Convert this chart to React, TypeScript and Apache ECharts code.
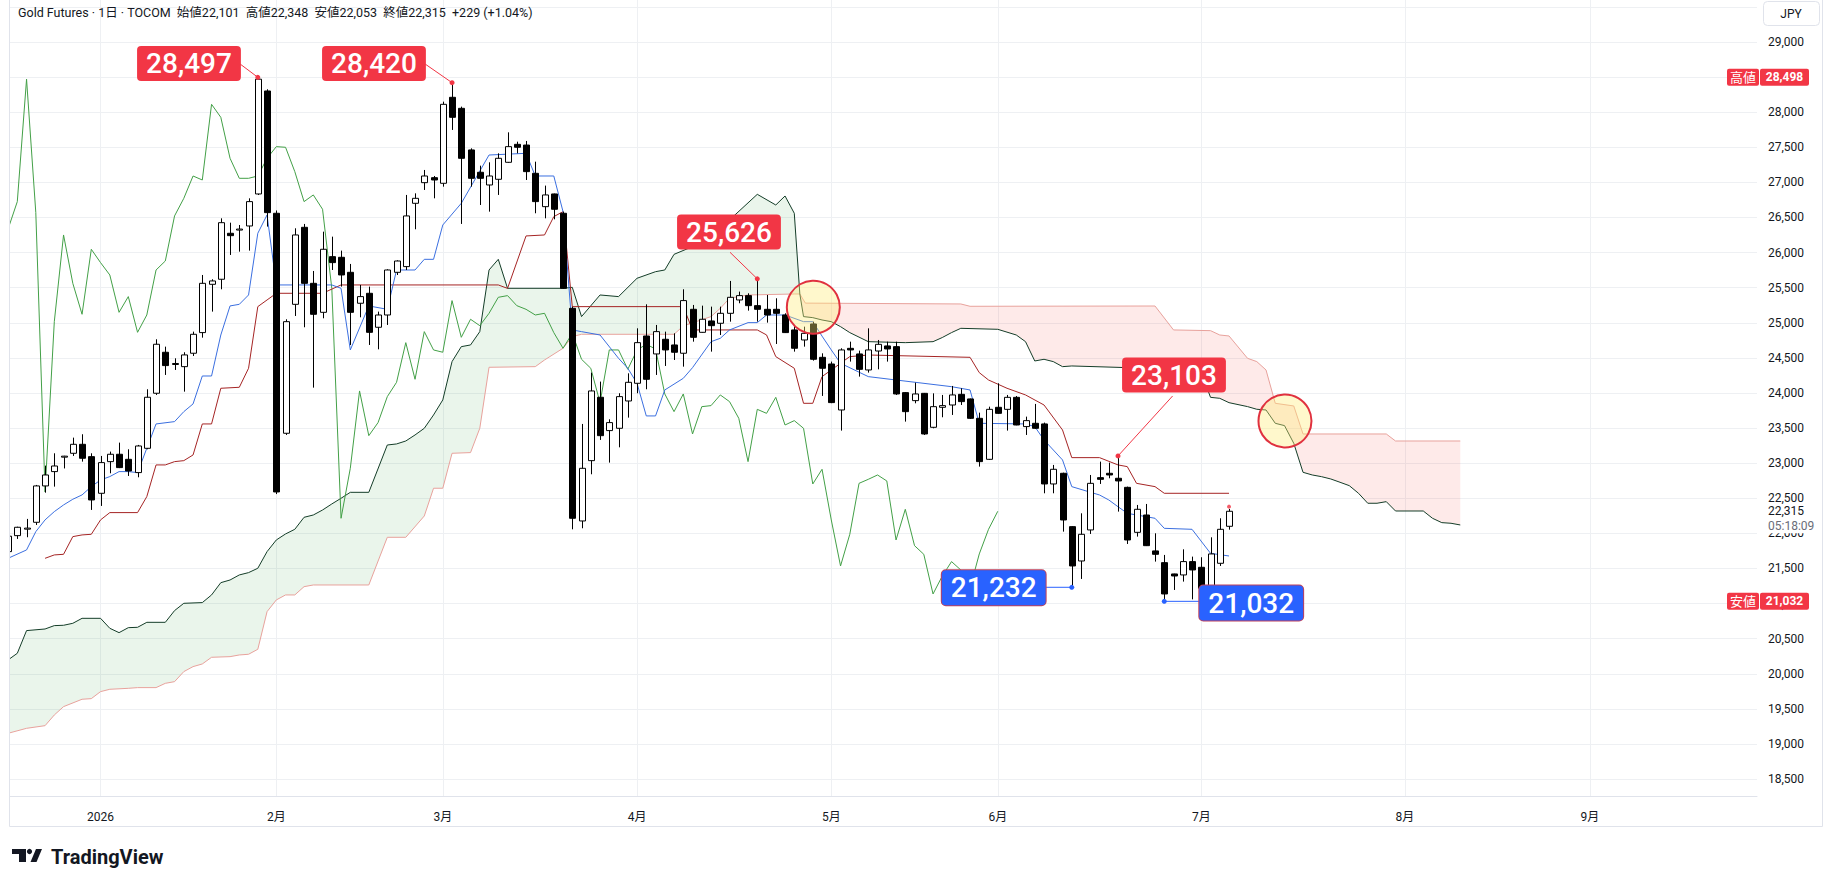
import React, { useEffect, useRef } from "react";
import * as echarts from "echarts";

// ---------- axis labels ----------
const monthTickIdx = [10, 29, 47, 68, 89, 107, 129, 151, 171];
const monthLabels = ["2026", "2月", "3月", "4月", "5月", "6月", "7月", "8月", "9月"];
const priceGrid = [18500, 19000, 19500, 20000, 20500, 21000, 21500, 22000, 22500, 23000, 23500, 24000, 24500, 25000, 25500, 26000, 26500, 27000, 27500, 28000, 28500, 29000, 29500];
const priceLabels = [18500, 19000, 19500, 20000, 20500, 21000, 21500, 22000, 22500, 23000, 23500, 24000, 24500, 25000, 25500, 26000, 26500, 27000, 27500, 28000, 28500, 29000];

// ---------- daily candles (index 0 = 2025-12-17) ----------
const opens = [21740, 21968, 22060, 22158, 22676, 22880, 23090, 23141, 23269, 23093, 22571, 23022, 23127, 23055, 22866, 23212, 23996, 24580, 24410, 24375, 24566, 24860, 25548, 25620, 26275, 26330, 26379, 26835, 28302, 26560, 23426, 25263, 26360, 25562, 25149, 25942, 25933, 25719, 25278, 25420, 24936, 25111, 25719, 25800, 26702, 26996, 27067, 26987, 28212, 28055, 27462, 27144, 26963, 27044, 27286, 27542, 27532, 27129, 26654, 26835, 26560, 25206, 22177, 23036, 23939, 23464, 23497, 23886, 24138, 24812, 24556, 24765, 24684, 24566, 25192, 24864, 25026, 24993, 25135, 25325, 25387, 25244, 25192, 25192, 25111, 24898, 24755, 24983, 24508, 24413, 23758, 24636, 24556, 24328, 24598, 24670, 24660, 24005, 23891, 23995, 23511, 23796, 23829, 23981, 23915, 23639, 23055, 23796, 23767, 23938, 23521, 23568, 23559, 22704, 22856, 22096, 21607, 22049, 22794, 22856, 22785, 22656, 22015, 22262, 21750, 21583, 21422, 21408, 21598, 21517, 21242, 21574, 22101];
const highs = [22010, 22095, 22206, 22690, 22965, 23141, 23105, 23364, 23412, 23141, 23103, 23165, 23293, 23198, 23260, 24053, 24765, 24660, 24494, 24580, 24874, 25681, 25620, 26488, 26426, 26393, 26773, 28497, 28326, 26600, 25050, 26346, 26408, 25738, 26298, 26227, 26028, 25838, 25539, 25515, 25159, 25762, 25890, 26821, 26844, 27177, 27091, 28150, 28420, 28079, 27485, 27238, 27286, 27414, 27713, 27580, 27590, 27295, 26954, 26840, 26583, 25230, 23559, 24290, 24162, 23625, 23996, 24280, 24921, 25263, 24969, 24874, 24850, 25477, 25254, 25244, 25230, 25230, 25596, 25444, 25420, 25626, 25396, 25349, 25135, 24969, 24945, 25016, 24565, 24447, 24637, 24731, 24603, 24921, 24755, 24731, 24731, 24010, 24147, 24000, 23995, 23972, 24100, 24067, 23920, 23720, 23805, 24138, 23972, 23957, 23663, 23844, 23578, 22975, 22865, 22100, 22286, 22832, 23022, 23008, 23103, 22666, 22405, 22419, 22001, 21693, 21425, 21773, 21669, 21660, 21944, 22215, 22348];
const lows = [21720, 21921, 21945, 22120, 22580, 22666, 22925, 23103, 23022, 22334, 22391, 22856, 22930, 22818, 22799, 23198, 23972, 24257, 24328, 24019, 24527, 24788, 25159, 25477, 25966, 26013, 26028, 26820, 26370, 22560, 23402, 25097, 24936, 24076, 25064, 25752, 25515, 24684, 25078, 24684, 24622, 24969, 25681, 25752, 26332, 26892, 26773, 26939, 27747, 26408, 26939, 26678, 26583, 26821, 27280, 27414, 27034, 26560, 26488, 26474, 25485, 22058, 22073, 22842, 23331, 23008, 23226, 23649, 23996, 24053, 24257, 24385, 24470, 24375, 24731, 24860, 24589, 24826, 25016, 25278, 25173, 25016, 25002, 24698, 24855, 24589, 24660, 24461, 23958, 23855, 23464, 24447, 24233, 24290, 24337, 24447, 23972, 23592, 23853, 23402, 23497, 23654, 23687, 23829, 23630, 22951, 23046, 23705, 23464, 23540, 23402, 23490, 22571, 22571, 22025, 21232, 21351, 21992, 22704, 22785, 22310, 21849, 21954, 21820, 21598, 21032, 21194, 21313, 21060, 21194, 21218, 21536, 22053];
const closes = [21960, 22087, 22075, 22676, 22832, 22960, 23100, 23269, 23070, 22476, 23008, 23127, 22937, 22889, 23245, 23939, 24694, 24390, 24420, 24542, 24836, 25562, 25596, 26426, 26241, 26335, 26726, 28470, 26569, 22590, 25016, 26251, 25562, 25121, 26047, 25857, 25681, 25149, 25373, 24864, 25111, 25752, 25880, 26522, 26773, 27091, 27034, 28112, 27927, 27343, 27058, 27058, 27091, 27343, 27509, 27500, 27153, 26726, 26821, 26617, 25491, 22215, 22927, 24029, 23392, 23578, 23948, 24152, 24717, 24195, 24874, 24613, 24580, 25316, 24793, 25050, 24959, 25135, 25363, 25387, 25244, 25192, 25111, 25135, 24860, 24637, 24850, 24480, 24352, 23863, 24613, 24613, 24337, 24613, 24693, 24627, 23986, 23734, 23986, 23416, 23805, 23820, 23972, 23877, 23639, 23022, 23767, 23710, 23938, 23544, 23606, 23497, 22704, 22913, 22191, 21536, 21987, 22713, 22770, 22832, 22747, 21906, 22343, 21825, 21702, 21137, 21393, 21598, 21479, 21218, 21707, 22058, 22315];

// ---------- Ichimoku lines, read as [bar index, price] vertices ----------
const tenkan = [[0, 21645], [2, 21764], [3, 22025], [4, 22192], [5, 22310], [6, 22405], [7, 22486], [8, 22548], [9, 22666], [10, 22761], [11, 22809], [12, 22880], [13, 22880], [14, 22866], [15, 23212], [16, 23559], [18, 23592], [19, 23734], [20, 23844], [21, 24242], [22, 24242], [23, 24826], [24, 25240], [25, 25263], [26, 25396], [27, 26275], [28, 26536], [29, 25539], [35, 25539], [36, 25491], [37, 24613], [39, 25240], [41, 25192], [42, 25752], [44, 25752], [45, 25904], [46, 25904], [47, 26393], [49, 26702], [52, 27390], [56, 27414], [57, 27091], [59, 27091], [60, 26583], [61, 24898], [62, 24874], [64, 24826], [66, 24494], [67, 24352], [68, 24138], [69, 23673], [70, 23673], [71, 24043], [73, 24209], [74, 24361], [76, 24731], [77, 24779], [78, 24898], [80, 25002], [81, 25002], [82, 25111], [84, 25111], [86, 25016], [87, 25016], [88, 24810], [89, 24613], [90, 24423], [93, 24233], [96, 24185], [102, 24090], [104, 24043], [105, 23568], [110, 23559], [111, 23521], [112, 23331], [114, 23046], [115, 22666], [118, 22547], [119, 22476], [120, 22380], [121, 22286], [124, 22215], [125, 22072], [128, 22058], [130, 21716], [132, 21678]];
const kijun = [[4, 21645], [5, 21693], [6, 21702], [7, 21954], [8, 21978], [9, 21987], [10, 22192], [11, 22296], [14, 22296], [15, 22524], [16, 22975], [17, 22975], [18, 23022], [19, 23036], [20, 23117], [21, 23559], [22, 23559], [23, 24067], [25, 24081], [26, 24352], [27, 25230], [28, 25325], [29, 25420], [34, 25420], [36, 25539], [53, 25539], [54, 25490], [56, 26237], [58, 26251], [59, 26512], [60, 26583], [61, 25230], [73, 25230], [74, 24898], [81, 24898], [82, 24827], [83, 24518], [85, 24352], [86, 23853], [87, 23853], [88, 24233], [89, 24328], [91, 24518], [93, 24541], [104, 24508], [105, 24290], [106, 24185], [108, 24067], [110, 23972], [112, 23829], [114, 23473], [115, 23079], [118, 23079], [120, 22975], [121, 22951], [122, 22713], [124, 22666], [125, 22571], [132, 22571]];
const senkouA = [[0, 20197], [1, 20292], [2, 20615], [4, 20638], [5, 20686], [6, 20691], [7, 20719], [8, 20790], [10, 20790], [11, 20648], [12, 20586], [13, 20657], [14, 20662], [15, 20733], [17, 20733], [18, 20900], [19, 21004], [21, 21014], [22, 21123], [23, 21298], [24, 21336], [25, 21408], [26, 21441], [27, 21503], [28, 21740], [29, 21906], [30, 21992], [31, 22058], [32, 22229], [33, 22262], [34, 22333], [35, 22419], [36, 22500], [37, 22585], [39, 22585], [41, 23259], [42, 23274], [43, 23316], [44, 23402], [45, 23497], [46, 23687], [47, 23901], [48, 24447], [49, 24660], [50, 24684], [51, 24874], [52, 25752], [53, 25904], [54, 25491], [60, 25491], [61, 25505], [62, 25088], [64, 25396], [66, 25373], [68, 25634], [70, 25728], [71, 25752], [72, 25975], [74, 26085], [77, 26465], [78, 26465], [81, 26830], [83, 26678], [84, 26806], [85, 26560], [85.6, 25410], [86, 25088], [87, 25073], [88, 25040], [89, 25016], [90, 24945], [91, 24860], [93, 24731], [97, 24717], [100, 24731], [101, 24790], [102, 24860], [103, 24921], [107, 24907], [109, 24826], [110, 24731], [111, 24456], [112, 24480], [113, 24447], [114, 24375], [115, 24385], [121, 24361], [125, 24337], [129, 24290], [130, 23938], [131, 23924], [132, 23862], [134, 23806], [135, 23768], [136, 23758], [137, 23568], [138, 23535], [139, 23283], [140, 22870], [141, 22832], [142, 22808], [143, 22775], [144, 22728], [145, 22680], [146, 22571], [147, 22429], [148, 22429], [149, 22452], [150, 22319], [153, 22319], [154, 22215], [155, 22153], [156, 22144], [157, 22120]];
const senkouB = [[0, 19152], [2, 19223], [4, 19261], [5, 19413], [6, 19532], [8, 19637], [9, 19646], [10, 19746], [11, 19779], [13, 19793], [14, 19803], [16, 19803], [17, 19864], [18, 19888], [19, 20031], [20, 20102], [21, 20140], [22, 20235], [24, 20244], [25, 20268], [26, 20278], [27, 20349], [28, 20885], [29, 21052], [30, 21123], [31, 21123], [32, 21241], [33, 21265], [39, 21265], [41, 21944], [43, 21944], [45, 22248], [46, 22643], [47, 22643], [48, 23141], [50, 23151], [51, 23497], [52, 24366], [57, 24375], [58, 24470], [60, 24637], [61, 24803], [62, 24836], [72, 24836], [73, 24955], [76, 25088], [77, 25206], [78, 25349], [80, 25396], [85, 25410], [85.6, 25410], [86.2, 25280], [103, 25268], [104, 25235], [124, 25239], [126, 24898], [130, 24888], [131, 24826], [132, 24812], [134, 24494], [135, 24447], [136, 24328], [137, 23853], [139, 23815], [140, 23416], [149, 23416], [150, 23316], [157, 23316]];
const CLOUD_CROSS = 85.6;
const CHIKOU_SHIFT = 25;

// ---------- extremes on the price scale ----------
const scaleHigh = 28498;
const scaleLow = 21032;
const lastClose = 22315;
const countdown = "05:18:09";

// ---------- annotation layout (bar index, price) ----------
const callouts = [
  { bar: 27, kind: "high", box: [19.56, 28694], from: [25.08, 28687], color: "#F23645" },
  { bar: 48, kind: "high", box: [39.56, 28694], from: [45.08, 28687], color: "#F23645" },
  { bar: 81, kind: "high", box: [77.94, 26293], from: [78.05, 26004], color: "#F23645" },
  { bar: 120, kind: "high", box: [126.05, 24256], from: [125.9, 23957], color: "#F23645" },
  { bar: 115, kind: "low", box: [106.56, 21225], from: [112.0, 21232], color: "#2962FF" },
  { bar: 125, kind: "low", box: [134.4, 21008], from: [129.05, 21032], color: "#2962FF" },
];
const highlightCircles = [[87.06, 25222], [138.05, 23601]];

const FONT = "Roboto, 'Noto Sans CJK JP', sans-serif";
const fmt = (v: number) => v.toLocaleString("en-US");

export default function App() {
  const ref = useRef<HTMLDivElement>(null);
  useEffect(() => {
    document.body.style.margin = "0";
    const chart = echarts.init(ref.current!, undefined, { renderer: "svg" });
    const candles = opens.map((o, i) => [i, o, closes[i], lows[i], highs[i]]);
    const chikou = closes.slice(CHIKOU_SHIFT).map((c, i) => [i, c]);
    const calloutVal = (c: any) => (c.kind === "high" ? highs[c.bar] : lows[c.bar]);

    const option: any = {
      animation: false,
      backgroundColor: "#ffffff",
      grid: { left: 10, right: 70, top: 0, bottom: 91, containLabel: false },
      xAxis: {
        type: "value",
        min: 0.21,
        max: 189.08,
        axisLine: { show: true, lineStyle: { color: "#e0e3eb" } },
        axisTick: { show: false, customValues: monthTickIdx },
        axisLabel: {
          customValues: monthTickIdx,
          formatter: (v: number) => monthLabels[monthTickIdx.indexOf(Math.round(v))] ?? "",
          color: "#131722",
          fontSize: 12,
          fontFamily: FONT,
          margin: 15,
        },
        splitLine: { show: true, lineStyle: { color: "#eef0f3", width: 1 } },
      },
      yAxis: {
        type: "value",
        position: "right",
        min: 18259,
        max: 29598,
        axisLine: { show: false },
        axisTick: { show: false, customValues: priceGrid },
        axisLabel: {
          customValues: priceLabels,
          formatter: (v: number) => fmt(v),
          color: "#131722",
          fontSize: 12,
          fontFamily: FONT,
          margin: 11,
        },
        splitLine: { show: true, lineStyle: { color: "#eef0f3", width: 1 } },
      },
      series: [
        {
          type: "custom",
          name: "cloud",
          silent: true,
          clip: true,
          z: 1,
          data: [[0, 0]],
          encode: { x: 0, y: 1 },
          renderItem: (params: any, api: any) => {
            const toPts = (arr: number[][]) => arr.map((p) => api.coord(p));
            const gTop = senkouA.filter((p) => p[0] <= CLOUD_CROSS);
            const gBot = senkouB.filter((p) => p[0] <= CLOUD_CROSS).reverse();
            const rTop = senkouB.filter((p) => p[0] >= CLOUD_CROSS);
            const rBot = senkouA.filter((p) => p[0] >= CLOUD_CROSS).reverse();
            return {
              type: "group",
              children: [
                { type: "polygon", shape: { points: toPts([...gTop, ...gBot]) }, style: { fill: "rgba(67,160,71,0.11)" } },
                { type: "polygon", shape: { points: toPts([...rTop, ...rBot]) }, style: { fill: "rgba(244,67,54,0.11)" } },
              ],
            };
          },
        },
        { type: "line", name: "senkouB", data: senkouB, symbol: "none", z: 2, lineStyle: { color: "#E8A29C", width: 1 }, silent: true },
        { type: "line", name: "senkouA", data: senkouA, symbol: "none", z: 2, lineStyle: { color: "#143D28", width: 1 }, silent: true },
        { type: "line", name: "chikou", data: chikou, symbol: "none", z: 2, lineStyle: { color: "#43A047", width: 1 }, silent: true },
        { type: "line", name: "kijun", data: kijun, symbol: "none", z: 2, lineStyle: { color: "#A52424", width: 1 }, silent: true },
        { type: "line", name: "tenkan", data: tenkan, symbol: "none", z: 2, lineStyle: { color: "#3B6FE0", width: 1 }, silent: true },
        {
          type: "custom",
          name: "candles",
          clip: true,
          z: 3,
          data: candles,
          encode: { x: 0, y: [1, 2, 3, 4] },
          renderItem: (params: any, api: any) => {
            const i = api.value(0), o = api.value(1), c = api.value(2), l = api.value(3), h = api.value(4);
            const pO = api.coord([i, o]), pC = api.coord([i, c]), pL = api.coord([i, l]), pH = api.coord([i, h]);
            const x = Math.round(pO[0]) + 0.5;
            const w = 6;
            const up = c >= o;
            const top = Math.min(pO[1], pC[1]);
            const bot = Math.max(pO[1], pC[1]);
            return {
              type: "group",
              children: [
                { type: "line", shape: { x1: x, y1: pH[1], x2: x, y2: pL[1] }, style: { stroke: "#000", lineWidth: 1 } },
                { type: "rect", shape: { x: x - w / 2, y: top, width: w, height: Math.max(bot - top, 1) }, style: { fill: up ? "#fff" : "#000", stroke: "#000", lineWidth: 1 } },
              ],
            };
          },
        },
        {
          type: "custom",
          name: "circles",
          silent: true,
          z: 4,
          data: highlightCircles,
          encode: { x: 0, y: 1 },
          renderItem: (params: any, api: any) => {
            const p = api.coord([api.value(0), api.value(1)]);
            return { type: "circle", shape: { cx: p[0], cy: p[1], r: 26.5 }, style: { fill: "rgba(255,236,120,0.38)", stroke: "#E0313F", lineWidth: 2 } };
          },
        },
        {
          type: "custom",
          name: "leaders",
          silent: true,
          z: 5,
          data: callouts.map((c, i) => [i, calloutVal(c)]),
          encode: { x: 0, y: 1 },
          renderItem: (params: any, api: any) => {
            const c = callouts[params.dataIndex];
            const a = api.coord(c.from);
            const b = api.coord([c.bar, calloutVal(c)]);
            return {
              type: "group",
              children: [
                { type: "line", shape: { x1: a[0], y1: a[1], x2: b[0], y2: b[1] }, style: { stroke: c.color, lineWidth: 1 } },
                { type: "circle", shape: { cx: b[0], cy: b[1], r: 2.5 }, style: { fill: c.color } },
              ],
            };
          },
        },
        {
          type: "scatter",
          name: "lastDot",
          silent: true,
          z: 5,
          symbolSize: 4,
          itemStyle: { color: "#F23645" },
          data: [[132, highs[132] + 33]],
        },
        {
          type: "custom",
          name: "callouts",
          silent: true,
          z: 6,
          data: callouts.map((c, i) => [i, calloutVal(c)]),
          encode: { x: 0, y: 1 },
          renderItem: (params: any, api: any) => {
            const c = callouts[params.dataIndex];
            const p = api.coord(c.box);
            const isLow = c.kind === "low";
            return {
              type: "text",
              x: p[0],
              y: p[1],
              style: {
                text: fmt(calloutVal(c)),
                fill: "#ffffff",
                font: `500 28px ${FONT}`,
                align: "center",
                verticalAlign: "middle",
                backgroundColor: c.color,
                borderRadius: 4,
                padding: [4, 9, 3, 9],
                borderColor: isLow ? "#C0405A" : c.color,
                borderWidth: isLow ? 1 : 0,
              },
            };
          },
        },
        {
          type: "custom",
          name: "scaleTags",
          silent: true,
          clip: false,
          z: 7,
          data: [[100, scaleHigh, 0], [100, scaleLow, 1], [100, lastClose, 2]],
          encode: { x: 0, y: 1 },
          renderItem: (params: any, api: any) => {
            const cs = params.coordSys;
            const right = cs.x + cs.width;
            const y = api.coord([100, api.value(1)])[1];
            const k = params.dataIndex;
            if (k === 2) {
              return {
                type: "group",
                children: [
                  { type: "rect", shape: { x: right + 4, y: y - 7, width: 60, height: 29 }, style: { fill: "#ffffff" } },
                  { type: "text", x: right + 11, y: y, style: { text: fmt(api.value(1)), fill: "#131722", font: `12px ${FONT}`, verticalAlign: "middle" } },
                  { type: "text", x: right + 11, y: y + 14.5, style: { text: countdown, fill: "#6a6d78", font: `12px ${FONT}`, verticalAlign: "middle" } },
                ],
              };
            }
            const lbl = k === 0 ? "高値" : "安値";
            return {
              type: "group",
              children: [
                { type: "rect", shape: { x: right - 30, y: y - 8.5, width: 32, height: 17, r: 2 }, style: { fill: "#F23645" } },
                { type: "text", x: right - 14, y: y, style: { text: lbl, fill: "#fff", font: `13px ${FONT}`, align: "center", verticalAlign: "middle" } },
                { type: "rect", shape: { x: right + 3, y: y - 8.5, width: 49, height: 17, r: 2 }, style: { fill: "#F23645" } },
                { type: "text", x: right + 27.5, y: y, style: { text: fmt(api.value(1)), fill: "#fff", font: `bold 12px ${FONT}`, align: "center", verticalAlign: "middle" } },
              ],
            };
          },
        },
      ],
      graphic: [
        { type: "rect", z: 100, shape: { x: 0, y: 0, width: 9.5, height: 830 }, style: { fill: "#fff" } },
        { type: "line", z: 100, shape: { x1: 9.5, y1: 0, x2: 9.5, y2: 826.5 }, style: { stroke: "#e0e3eb", lineWidth: 1 } },
        { type: "line", z: 100, shape: { x1: 9.5, y1: 826.5, x2: 1822.5, y2: 826.5 }, style: { stroke: "#e0e3eb", lineWidth: 1 } },
        { type: "line", z: 100, shape: { x1: 1822.5, y1: 0, x2: 1822.5, y2: 826.5 }, style: { stroke: "#e0e3eb", lineWidth: 1 } },
        {
          type: "text", z: 100, x: 18, y: 12.5,
          style: { text: "Gold Futures · 1日 · TOCOM  始値22,101  高値22,348  安値22,053  終値22,315  +229 (+1.04%)", fill: "#131722", font: `12.5px ${FONT}`, verticalAlign: "middle" },
        },
        { type: "rect", z: 100, shape: { x: 1763.5, y: 1.5, width: 56, height: 24, r: 4 }, style: { fill: "#fff", stroke: "#e0e3eb", lineWidth: 1 } },
        { type: "text", z: 101, x: 1791, y: 14, style: { text: "JPY", fill: "#131722", font: `12px ${FONT}`, align: "center", verticalAlign: "middle" } },
        // TradingView logo
        { type: "rect", z: 100, shape: { x: 12, y: 849, width: 14, height: 5 }, style: { fill: "#131722" } },
        { type: "rect", z: 100, shape: { x: 19, y: 849, width: 7, height: 13 }, style: { fill: "#131722" } },
        { type: "circle", z: 100, shape: { cx: 29.5, cy: 851.5, r: 2.6 }, style: { fill: "#131722" } },
        { type: "polygon", z: 100, shape: { points: [[36, 849], [42, 849], [36.5, 862], [30.5, 862]] }, style: { fill: "#131722" } },
        { type: "text", z: 100, x: 51, y: 856.5, style: { text: "TradingView", fill: "#131722", font: `bold 20px ${FONT}`, verticalAlign: "middle" } },
      ],
    };
    chart.setOption(option);
    return () => chart.dispose();
  }, []);
  return <div ref={ref} style={{ position: "fixed", left: 0, top: 0, width: 1827, height: 887 }} />;
}
